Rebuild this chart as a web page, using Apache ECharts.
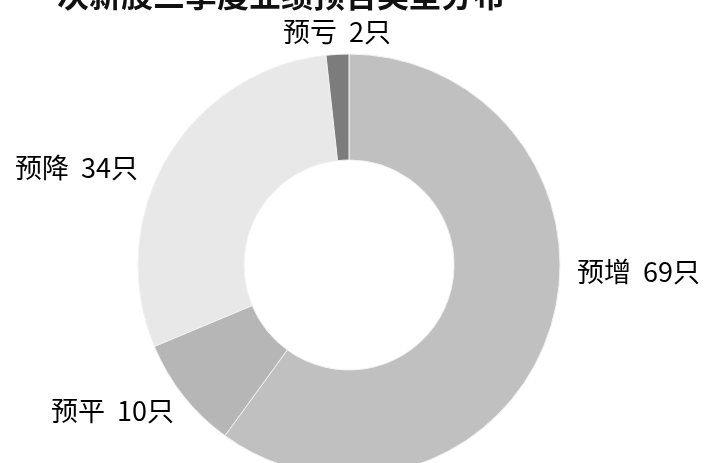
<!DOCTYPE html>
<html>
<head>
<meta charset="utf-8">
<script src="https://cdn.jsdelivr.net/npm/echarts@6/dist/echarts.min.js"></script>
<style>
  html, body { margin: 0; padding: 0; background: #fff; }
  #main { width: 708px; height: 463px; }
</style>
</head>
<body>
<div id="main"></div>
<script>
const categories = ['预增', '预平', '预降', '预亏'];
const counts = [69, 10, 34, 2];
const titleText = '次新股三季度业绩预告类型分布';

// colours and label spots, same order as categories
const sliceColors = ['#c0c0c0', '#b6b6b6', '#e8e8e8', '#7c7c7c'];
const labelSpots = [[577, 272], [51, 411], [15, 168], [283, 32]];

const chart = echarts.init(document.getElementById('main'));
const option = {
    backgroundColor: '#fff',
    title: {
        text: titleText,
        left: 52,
        top: -26,
        textStyle: {
            fontFamily: 'Noto Sans CJK SC',
            fontSize: 32,
            fontWeight: 'bold',
            color: '#111'
        }
    },
    series: [
        {
            type: 'pie',
            center: [349, 265],
            radius: [105, 211],
            startAngle: 90,
            clockwise: true,
            silent: true,
            itemStyle: {
                borderColor: '#f2f2f2',
                borderWidth: 1
            },
            label: {
                show: true,
                position: 'outside',
                formatter: '{b}  {c}只',
                fontFamily: 'Noto Sans CJK SC',
                fontSize: 27,
                color: '#000',
                overflow: 'none',
                width: 200
            },
            labelLine: { show: false },
            labelLayout: function (params) {
                const p = labelSpots[params.dataIndex];
                return { x: p[0], y: p[1], align: 'left', verticalAlign: 'middle', hideOverlap: false };
            },
            data: categories.map((name, i) => ({
                name: name,
                value: counts[i],
                itemStyle: { color: sliceColors[i] }
            }))
        }
    ]
};
chart.setOption(option);
</script>
</body>
</html>
